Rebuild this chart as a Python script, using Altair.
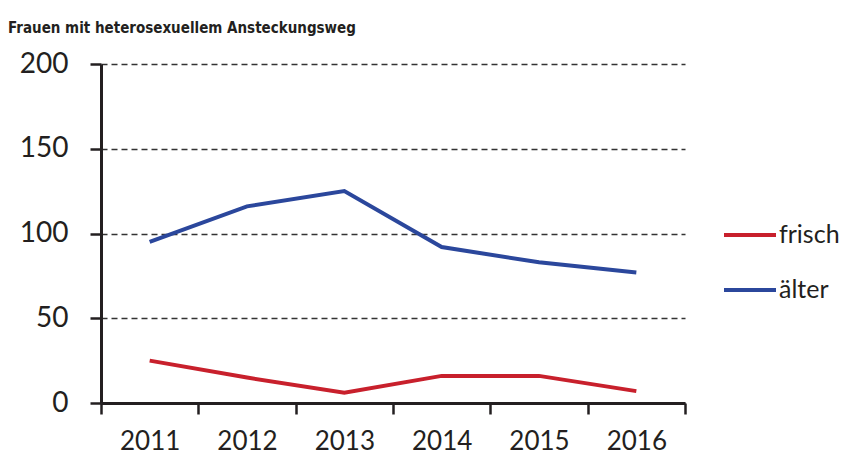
import altair as alt
import pandas as pd

years = ["2011", "2012", "2013", "2014", "2015", "2016"]
frisch = [25, 15, 6, 16, 16, 7]
aelter = [95, 116, 125, 92, 83, 77]
series = ["frisch", "älter"]
colors = ["#C8202C", "#2B479C"]
title_text = "Frauen mit heterosexuellem Ansteckungsweg"

rows = []
for s, vals in zip(series, [frisch, aelter]):
    for y, v in zip(years, vals):
        rows.append({"Jahr": y, "Wert": v, "Serie": s})
df = pd.DataFrame(rows)

FONT = "Lato"

lines = alt.Chart(df).mark_line(strokeWidth=4, strokeCap="butt").encode(
    x=alt.X("Jahr:N", bandPosition=0.5, sort=years,
            scale=alt.Scale(type="band", paddingInner=0, paddingOuter=0),
            axis=alt.Axis(title=None, labelAngle=0, tickBand="extent",
                          domainColor="#231F20", domainWidth=3,
                          tickColor="#231F20", tickWidth=2.5, tickSize=11,
                          labelFont=FONT, labelFontSize=26, labelColor="#231F20",
                          labelPadding=14, grid=False)),
    y=alt.Y("Wert:Q", scale=alt.Scale(domain=[0, 200], nice=False),
            axis=alt.Axis(title=None, values=[0, 50, 100, 150, 200],
                          domainColor="#231F20", domainWidth=3,
                          tickColor="#231F20", tickWidth=2.5, tickSize=11,
                          labelFont=FONT, labelFontSize=28, labelColor="#231F20",
                          labelPadding=22,
                          grid=True, gridDash=[6, 4], gridColor="#333333",
                          gridWidth=1.5)),
    color=alt.Color("Serie:N", sort=series,
                    scale=alt.Scale(domain=series, range=colors),
                    legend=alt.Legend(title=None, orient="none",
                                      legendX=621, legendY=143,
                                      symbolType="stroke", symbolSize=2704,
                                      symbolStrokeWidth=4, rowPadding=14,
                                      labelFont=FONT, labelFontSize=25,
                                      labelColor="#231F20", labelOffset=1)),
)

title = alt.Chart(pd.DataFrame({"t": [title_text]})).mark_text(
    align="left", baseline="alphabetic", font="DejaVu Sans Condensed",
    fontSize=15, fontWeight="bold", color="#231F20"
).encode(text="t:N", x=alt.value(-93), y=alt.value(-31))

chart = alt.layer(lines, title).properties(
    width=584, height=339,
    autosize=alt.AutoSizeParams(type="none"),
    padding={"left": 93, "top": 56, "right": 157, "bottom": 52},
).configure_view(stroke=None)

chart.save("out.html", embed_options={"renderer": "svg", "actions": False})
